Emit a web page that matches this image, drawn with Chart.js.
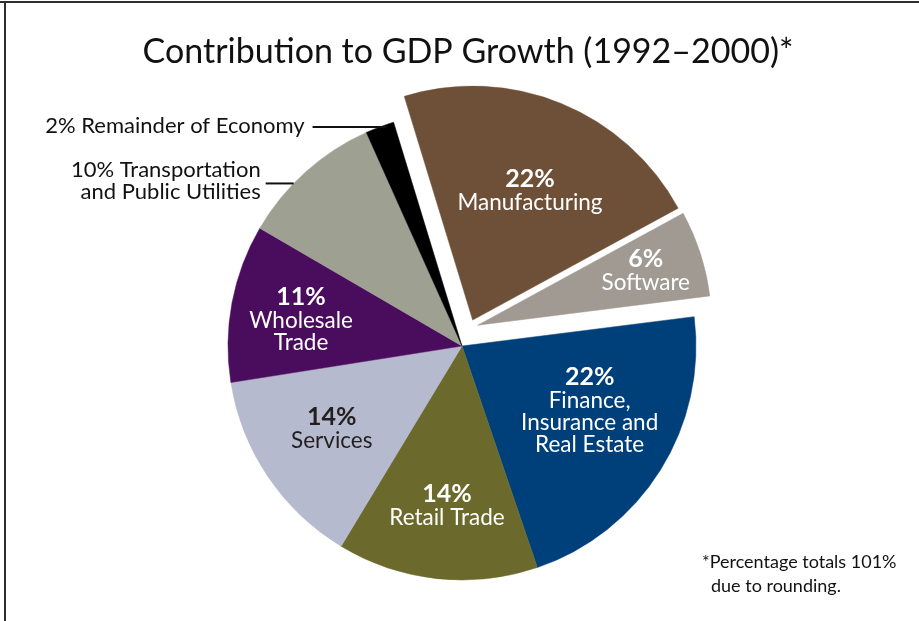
<!DOCTYPE html>
<html>
<head>
<meta charset="utf-8">
<title>Contribution to GDP Growth (1992–2000)</title>
<script src="https://cdn.jsdelivr.net/npm/chart.js@4.4.1/dist/chart.umd.min.js"></script>
<style>
    html, body { margin: 0; padding: 0; background: #fff; }
    #wrap { position: relative; width: 919px; height: 621px; overflow: hidden; }
    .rule-top { position: absolute; left: 0; top: 1px; width: 919px; height: 2px; background: #2e2e2e; }
    .rule-left { position: absolute; left: 4px; top: 1px; width: 2px; height: 620px; background: #2e2e2e; }
</style>
</head>
<body>
<div id="wrap">
    <canvas id="gdpChart" width="919" height="621"></canvas>
    <div class="rule-top"></div>
    <div class="rule-left"></div>
</div>
<script>
// data
const sectors = [
    'Manufacturing', 'Software', 'Finance, Insurance and Real Estate', 'Retail Trade',
    'Services', 'Wholesale Trade', 'Transportation and Public Utilities', 'Remainder of Economy'
];
const shares = [22, 6, 22, 14, 14, 11, 10, 2];
const labelLines = [
    ['Manufacturing'],
    ['Software'],
    ['Finance,', 'Insurance and', 'Real Estate'],
    ['Retail Trade'],
    ['Services'],
    ['Wholesale', 'Trade'],
    ['Transportation', 'and Public Utilities'],
    ['Remainder of Economy']
];
const chartTitle = 'Contribution to GDP Growth (1992–2000)*';
const footnote = ['*Percentage totals 101%', 'due to rounding.'];

const sliceColors = ['#6e5038', '#a09a92', '#00407a', '#6b6a2c', '#b6bace', '#4a0c5c', '#9ea192', '#000000'];
const textColors = ['#fff', '#fff', '#fff', '#fff', '#231f20', '#fff', '#fff', '#fff'];
const FONT = 'Lato, "Open Sans", sans-serif';

function polar(arc, angleDeg, frac) {
    const a = (angleDeg - 90) * Math.PI / 180;
    const r = frac * arc.outerRadius;
    return { x: arc.x + Math.cos(a) * r, y: arc.y + Math.sin(a) * r };
}

// pulls the manufacturing and software wedges out of the pie
const explodePlugin = {
    id: 'explode',
    afterDatasetsUpdate(chart, args, opts) {
        chart.getDatasetMeta(0).data.forEach((arc, i) => {
            const s = opts.shifts[i];
            if (!s) return;
            const a = (s.angle - 90) * Math.PI / 180;
            arc.x += Math.cos(a) * s.dist;
            arc.y += Math.sin(a) * s.dist;
        });
    }
};

const textPlugin = {
    id: 'gdpText',
    afterDatasetsDraw(chart, args, opts) {
        const ctx = chart.ctx;
        const arcs = chart.getDatasetMeta(0).data;
        ctx.save();

        // title
        ctx.fillStyle = '#111';
        ctx.textAlign = 'center';
        ctx.textBaseline = 'alphabetic';
        ctx.font = '34px ' + FONT;
        ctx.fillText(chartTitle, opts.titleX, opts.titleY);

        // labels inside the wedges
        arcs.forEach((arc, i) => {
            const spot = opts.inside[i];
            if (!spot) return;
            const p = polar(arc, spot[0], spot[1]);
            ctx.fillStyle = textColors[i];
            ctx.font = 'bold 25px ' + FONT;
            ctx.fillText(shares[i] + '%', p.x, p.y);
            ctx.font = '22.5px ' + FONT;
            labelLines[i].forEach((line, k) => ctx.fillText(line, p.x, p.y + 23 + 22 * k));
        });

        // labels outside with leader lines
        ctx.textAlign = 'right';
        ctx.font = '22px ' + FONT;
        arcs.forEach((arc, i) => {
            const lead = opts.outside[i];
            if (!lead) return;
            const p = polar(arc, lead.angle, lead.r);
            const x0 = p.x - lead.length;
            ctx.strokeStyle = '#111';
            ctx.lineWidth = 2;
            ctx.beginPath();
            ctx.moveTo(x0, p.y);
            ctx.lineTo(p.x, p.y);
            ctx.stroke();
            ctx.fillStyle = '#111';
            const lines = labelLines[i].slice();
            lines[0] = shares[i] + '% ' + lines[0];
            const firstBase = p.y + 6 - (lines.length - 1) * 12;
            lines.forEach((line, k) => ctx.fillText(line, x0 - lead.gap, firstBase + 22 * k));
        });

        // footnote
        ctx.textAlign = 'left';
        ctx.fillStyle = '#111';
        ctx.font = '18px ' + FONT;
        ctx.fillText(footnote[0], opts.noteX, opts.noteY);
        ctx.fillText(footnote[1], opts.noteX + 9, opts.noteY + 24);

        ctx.restore();
    }
};

new Chart(document.getElementById('gdpChart'), {
    type: 'pie',
    data: {
        labels: sectors,
        datasets: [{
            data: shares,
            backgroundColor: sliceColors,
            borderColor: sliceColors,
            borderWidth: 0.5
        }]
    },
    options: {
        responsive: false,
        animation: false,
        events: [],
        rotation: -17,
        radius: 234,
        layout: { padding: { left: 5, right: 0, top: 71, bottom: 0 } },
        plugins: {
            legend: { display: false },
            title: { display: false },
            tooltip: { enabled: false },
            explode: {
                shifts: { 0: { angle: 22.4, dist: 28 }, 1: { angle: 37, dist: 26 } }
            },
            gdpText: {
                titleX: 468,
                titleY: 63,
                inside: {
                    0: [23.3, 0.62],
                    1: [71, 0.76],
                    2: [106.9, 0.57],
                    3: [185.5, 0.67],
                    4: [238.9, 0.65],
                    5: [284.4, 0.71]
                },
                outside: {
                    6: { angle: 314, r: 1.0, length: 28, gap: 5 },
                    7: { angle: 341, r: 0.99, length: 74, gap: 8 }
                },
                noteX: 702,
                noteY: 568
            }
        }
    },
    plugins: [explodePlugin, textPlugin]
});
</script>
</body>
</html>
